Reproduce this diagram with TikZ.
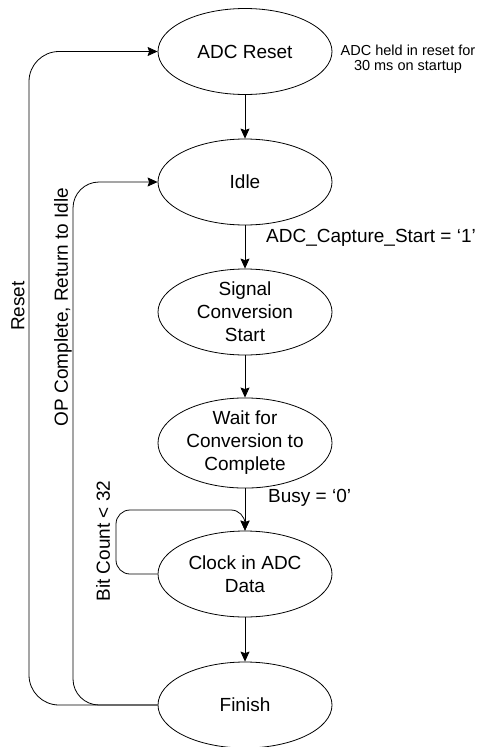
\documentclass[tikz,border=0pt]{standalone}
\usepackage{fontspec}
\setmainfont{Liberation Sans}
\usetikzlibrary{shapes.geometric,arrows.meta}
\tikzset{
  state/.style={draw, ellipse, line width=0.8pt, minimum width=174pt, minimum height=86pt,
    inner sep=0pt, align=center, font=\fontsize{19}{23}\selectfont},
  flow/.style={draw, line width=0.8pt, -{Stealth[length=10pt,width=9pt,inset=1.5pt]}},
  lbl/.style={font=\fontsize{19}{23}\selectfont, inner sep=0pt},
  note/.style={font=\fontsize{14.5}{15}\selectfont, align=center, inner sep=0pt}
}
\begin{document}
\begin{tikzpicture}[x=1pt,y=-1pt]
  \useasboundingbox (0,0) rectangle (478,747);

  % states
  \node[state] (reset)  at (245,51.5) {ADC Reset};
  \node[state] (idle)   at (245,182)  {Idle};
  \node[state] (signal) at (245,312)  {Signal\\Conversion\\Start};
  \node[state] (wait)   at (245,443)  {Wait for\\Conversion to\\Complete};
  \node[state] (clock)  at (245,574)  {Clock in ADC\\Data};
  \node[state] (finish) at (245,705)  {Finish};

  % forward transitions
  \draw[flow] (reset) -- (idle);
  \draw[flow] (idle) -- (signal);
  \draw[flow] (signal) -- (wait);
  \draw[flow] (wait) -- (clock);
  \draw[flow] (clock) -- (finish);

  % return paths on the left
  \draw[flow, rounded corners=30pt] (finish.west) -- (29,705) -- (29,51.5) -- (reset.west);
  \draw[flow, rounded corners=26pt] (finish.west) -- (73,705) -- (73,182) -- (idle.west);

  % bit counting loop
  \draw[flow, rounded corners=14pt] (clock.west) -- (116,574) -- (116,510) -- (245,510) -- (clock.north);

  % labels
  \node[note] (startnote) at (408,59) {ADC held in reset for\\30 ms on startup};
  \node[lbl, anchor=west] (capture) at (266,238) {ADC\_Capture\_Start = ‘1’};
  \node[lbl, anchor=west] (busy) at (268,498) {Busy = ‘0’};
  \node[lbl, rotate=90] (resetlbl) at (18,306) {Reset};
  \node[lbl, rotate=90] (oplbl) at (63,307) {OP Complete, Return to Idle};
  \node[lbl, rotate=90] (bitlbl) at (103,541) {Bit Count < 32};
\end{tikzpicture}
\end{document}
